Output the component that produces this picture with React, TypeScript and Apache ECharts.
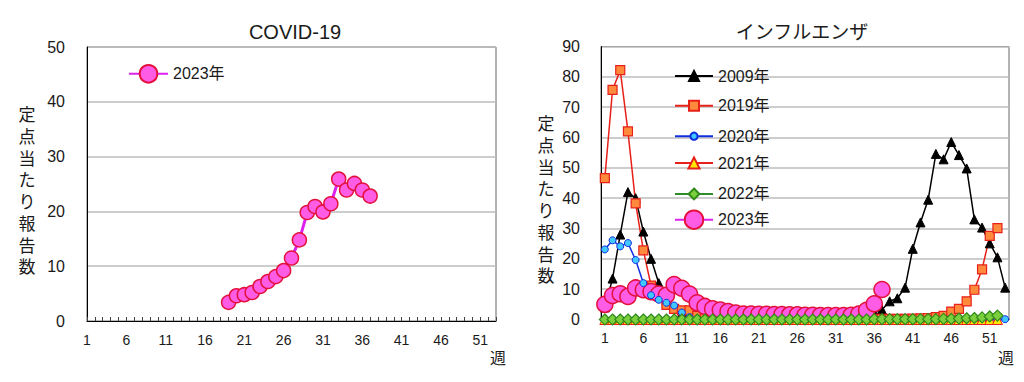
import React, { useEffect, useRef } from "react";
import * as echarts from "echarts";

// ---------- data ----------
const weeks: string[] = Array.from({ length: 53 }, (_, i) => String(i + 1));

const covidStartWeek = 19;
const covid2023 = [3.4, 4.6, 4.8, 5.2, 6.3, 7.2, 8.1, 9.2, 11.5, 14.8, 19.8, 20.9, 19.9, 21.4, 25.9, 23.9, 25.1, 23.9, 22.8];

const flu2009 = [
  4, 13.5, 28, 42, 40, 29, 20, 12, 6.5, 3.5, 2, 1.2, 0.8, 0.5, 0.4, 0.3, 0.2, 0.2, 0.1, 0.1,
  0.1, 0.1, 0.1, 0.1, 0.1, 0.1, 0.1, 0.2, 0.3, 0.4, 0.6, 0.9, 1.3, 1.8, 2.2, 2.5, 3.2, 6, 7, 10.5,
  23.3, 32, 39.5, 54.6, 52.8, 58.5, 54.2, 49.8, 33, 30.3, 25.1, 20.5, 10.5,
];
const flu2019 = [
  46.6, 75.7, 82.2, 62, 38.3, 22.8, 11.2, 9, 4.8, 3.5, 3, 3, 1.2, 0.8, 0.5, 0.4, 0.3, 0.3, 0.2, 0.2,
  0.2, 0.2, 0.2, 0.2, 0.2, 0.2, 0.2, 0.2, 0.2, 0.2, 0.2, 0.2, 0.2, 0.2, 0.2, 0.2, 0.2, 0.2, 0.2, 0.2,
  0.3, 0.4, 0.5, 0.8, 1.2, 2.6, 3.5, 6, 9.8, 16.5, 27.6, 30.1,
];
const flu2020 = [
  23.1, 26.1, 24.1, 25.2, 19.6, 12, 8, 6.5, 5.5, 4.6, 2.3, 0.8, 0.3, 0.1, 0.05, 0, 0, 0, 0, 0,
  0, 0, 0, 0, 0, 0, 0, 0, 0, 0, 0, 0, 0, 0, 0, 0, 0, 0, 0, 0,
  0, 0, 0, 0, 0, 0, 0, 0, 0, 0, 0, 0, 0.1,
];
const flu2021 = [
  0, 0, 0, 0, 0, 0, 0, 0, 0, 0, 0, 0, 0, 0, 0, 0, 0, 0, 0, 0,
  0, 0, 0, 0, 0, 0, 0, 0, 0, 0, 0, 0, 0, 0, 0, 0, 0, 0, 0, 0,
  0, 0, 0, 0, 0, 0, 0, 0, 0, 0, 0, 0,
];
const flu2022 = [
  0, 0, 0, 0, 0, 0, 0, 0, 0, 0, 0, 0, 0, 0, 0, 0, 0, 0, 0, 0,
  0, 0, 0, 0, 0, 0, 0, 0, 0, 0, 0, 0, 0, 0, 0, 0.1, 0.1, 0.1, 0.1, 0.1,
  0.1, 0.1, 0.1, 0.1, 0.2, 0.2, 0.3, 0.4, 0.5, 0.7, 1.0, 1.3,
];
const flu2023 = [
  5.0, 7.9, 8.5, 7.6, 10.4, 9.8, 9.2, 8.4, 8.0, 11.5, 10.3, 8.4, 5.5, 4.3, 3.5, 3.1, 2.6, 2.1, 1.8, 1.8,
  1.7, 1.7, 1.6, 1.6, 1.5, 1.5, 1.4, 1.4, 1.3, 1.3, 1.3, 1.3, 1.4, 1.8, 3.0, 5.2, 9.9,
];

const covidTicks = { min: 0, max: 50, interval: 10 };
const fluTicks = { min: 0, max: 90, interval: 10 };

const yAxisName = "定点当たり報告数";

// ---------- styles ----------
const FONT = "'Liberation Sans', Arial, 'Noto Sans CJK JP', sans-serif";
const TEXT = "#1a1a1a";

const covidData = weeks.map((_, i) => {
  const k = i + 1 - covidStartWeek;
  return k >= 0 && k < covid2023.length ? covid2023[k] : null;
});

export default function App() {
  const ref = useRef<HTMLDivElement>(null);

  useEffect(() => {
    if (!ref.current) return;
    const chart = echarts.init(ref.current, undefined, { renderer: "svg" });

    const gridLine = { show: true, lineStyle: { color: "#bdbdbd", width: 1.5 } };

    const yAxisCommon = (idx: number, ticks: any, margin: number) => ({
      type: "value",
      gridIndex: idx,
      min: ticks.min,
      max: ticks.max,
      interval: ticks.interval,
      axisLine: { show: true, lineStyle: { color: "#000", width: 1 } },
      axisTick: { show: false },
      axisLabel: { fontSize: 16, color: TEXT, fontFamily: FONT, margin },
      splitLine: gridLine,
    });

    const legendItem = (name: string, center: number, size: number, left: number, width: number, label?: string) => ({
      data: [name],
      left,
      top: center - size / 2,
      orient: "vertical",
      itemWidth: width,
      itemHeight: size,
      padding: 0,
      selectedMode: false,
      formatter: label ? () => label : undefined,
      textStyle: { fontSize: 16, color: TEXT, fontFamily: FONT },
    });

    const pinkStyle = { color: "#ff5ce6", borderColor: "#e4103c", borderWidth: 1.5 };
    const redLine = "#e8201a";

    const option: any = {
      animation: false,
      backgroundColor: "#fff",
      grid: [
        { left: 87, top: 47, width: 409, height: 274, show: true, borderColor: "#666", borderWidth: 1, backgroundColor: "transparent" },
        { left: 601, top: 46.5, width: 408, height: 273, show: true, borderColor: "#666", borderWidth: 1, backgroundColor: "transparent" },
      ],
      xAxis: [
        {
          type: "category",
          gridIndex: 0,
          data: weeks,
          boundaryGap: false,
          axisLine: { lineStyle: { color: "#000", width: 1 } },
          axisTick: { show: true, inside: true, interval: 0, length: 4, lineStyle: { color: "#444" } },
          axisLabel: { interval: 4, fontSize: 14, color: TEXT, fontFamily: FONT, margin: 12 },
          splitLine: { show: false },
        },
        {
          type: "category",
          gridIndex: 1,
          data: weeks,
          boundaryGap: true,
          axisLine: { lineStyle: { color: "#000", width: 1 } },
          axisTick: { show: false },
          axisLabel: { interval: 4, fontSize: 14, color: TEXT, fontFamily: FONT, margin: 11 },
          splitLine: { show: false },
        },
      ],
      yAxis: [yAxisCommon(0, covidTicks, 22), yAxisCommon(1, fluTicks, 21)],
      legend: [
        legendItem("COVID-19 2023年", 75, 22, 128, 39, "2023年"),
        legendItem("2009年", 74.3, 12.5, 674, 38),
        legendItem("2019年", 104, 12.5, 674, 38),
        legendItem("2020年", 132.7, 9, 674, 38),
        legendItem("2021年", 162, 14, 674, 38),
        legendItem("2022年", 192.7, 13.5, 674, 38),
        legendItem("2023年", 221, 23, 674, 38),
      ],
      series: [
        {
          name: "COVID-19 2023年",
          type: "line",
          xAxisIndex: 0,
          yAxisIndex: 0,
          data: covidData,
          symbol: "circle",
          symbolSize: 14,
          showAllSymbol: true,
          lineStyle: { color: "#dd22ee", width: 3 },
          itemStyle: pinkStyle,
          connectNulls: false,
        },
        {
          name: "2009年",
          type: "line",
          xAxisIndex: 1,
          yAxisIndex: 1,
          data: flu2009,
          symbol: "triangle",
          symbolSize: 9,
          showAllSymbol: true,
          lineStyle: { color: "#000", width: 1.5 },
          itemStyle: { color: "#000", borderColor: "#000", borderWidth: 1 },
        },
        {
          name: "2019年",
          type: "line",
          xAxisIndex: 1,
          yAxisIndex: 1,
          data: flu2019,
          symbol: "rect",
          symbolSize: 9,
          showAllSymbol: true,
          lineStyle: { color: redLine, width: 1.5 },
          itemStyle: { color: "#ff8a3c", borderColor: redLine, borderWidth: 1.2 },
        },
        {
          name: "2023年",
          type: "line",
          xAxisIndex: 1,
          yAxisIndex: 1,
          data: flu2023,
          symbol: "circle",
          symbolSize: 16,
          showAllSymbol: true,
          lineStyle: { color: "#dd22ee", width: 3 },
          itemStyle: pinkStyle,
        },
        {
          name: "2020年",
          type: "line",
          xAxisIndex: 1,
          yAxisIndex: 1,
          data: flu2020,
          symbol: "circle",
          symbolSize: 7,
          showAllSymbol: true,
          lineStyle: { color: "#1030e0", width: 1.5 },
          itemStyle: { color: "#40c8ff", borderColor: "#1030e0", borderWidth: 1 },
        },
        {
          name: "2021年",
          type: "line",
          xAxisIndex: 1,
          yAxisIndex: 1,
          data: flu2021,
          symbol: "triangle",
          symbolSize: 10,
          showAllSymbol: true,
          lineStyle: { color: redLine, width: 1.5 },
          itemStyle: { color: "#ffe800", borderColor: redLine, borderWidth: 1 },
        },
        {
          name: "2022年",
          type: "line",
          xAxisIndex: 1,
          yAxisIndex: 1,
          data: flu2022,
          symbol: "diamond",
          symbolSize: 11,
          showAllSymbol: true,
          lineStyle: { color: "#2e8b2e", width: 1.5 },
          itemStyle: { color: "#7ccf3c", borderColor: "#2f8a1a", borderWidth: 1.2 },
        },
      ],
      graphic: [
        {
          type: "text",
          x: 295,
          y: 32,
          style: { text: "COVID-19", font: `20px ${FONT}`, fill: TEXT, align: "center", verticalAlign: "middle" },
        },
        {
          type: "text",
          x: 802,
          y: 32,
          style: { text: "インフルエンザ", font: `19px ${FONT}`, fill: TEXT, align: "center", verticalAlign: "middle" },
        },
        {
          type: "text",
          x: 27,
          y: 105,
          style: { text: yAxisName.split("").join("\n"), font: `17px ${FONT}`, lineHeight: 21.7, fill: TEXT, align: "center", verticalAlign: "top" },
        },
        {
          type: "text",
          x: 546,
          y: 114,
          style: { text: yAxisName.split("").join("\n"), font: `17px ${FONT}`, lineHeight: 21.7, fill: TEXT, align: "center", verticalAlign: "top" },
        },
        {
          type: "text",
          x: 498,
          y: 358,
          style: { text: "週", font: `16px ${FONT}`, fill: TEXT, align: "center", verticalAlign: "middle" },
        },
        {
          type: "text",
          x: 1006,
          y: 358,
          style: { text: "週", font: `16px ${FONT}`, fill: TEXT, align: "center", verticalAlign: "middle" },
        },
      ],
    };

    chart.setOption(option);
    return () => chart.dispose();
  }, []);

  return (
    <div
      ref={ref}
      style={{ position: "fixed", left: 0, top: 0, width: 1024, height: 382, background: "#fff" }}
    />
  );
}
